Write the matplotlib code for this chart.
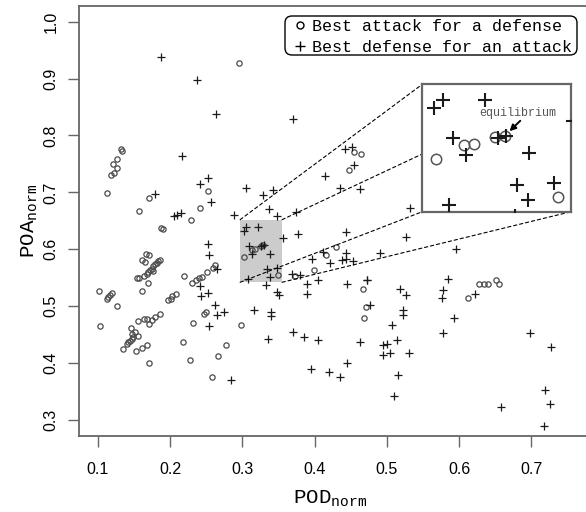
import matplotlib
matplotlib.use("Agg")
import matplotlib.pyplot as plt
from matplotlib.patches import Rectangle, ConnectionPatch, FancyBboxPatch
from matplotlib.lines import Line2D
from matplotlib.transforms import IdentityTransform

# ---- data: best attack for a defense (circles) ----
attack_x = [0.2959, 0.1322, 0.1332, 0.1271, 0.1216, 0.1271, 0.1230, 0.1184, 0.1124, 0.2530,
            0.2415, 0.1710, 0.1567, 0.2290, 0.1876, 0.1899, 0.1664, 0.1710, 0.1609, 0.1654,
            0.1862, 0.1838, 0.1816, 0.1793, 0.1769, 0.1747, 0.1723, 0.1700, 0.1678, 0.1645,
            0.1769, 0.1539, 0.1575, 0.1700, 0.1609, 0.1018, 0.1194, 0.1170, 0.1147, 0.1133,
            0.1271, 0.1976, 0.2010, 0.2032, 0.2079, 0.2198, 0.2311, 0.2355, 0.2401, 0.2447,
            0.2508, 0.2591, 0.2622, 0.2477, 0.2498, 0.2314, 0.2986, 0.1866, 0.1793, 0.1755,
            0.1678, 0.1636, 0.1553, 0.1710, 0.1032, 0.1456, 0.1470, 0.1516, 0.1553, 0.1492,
            0.1470, 0.1447, 0.1423, 0.1401, 0.1354, 0.1527, 0.1609, 0.1678, 0.1710, 0.2180,
            0.2277, 0.2775, 0.2668, 0.2581, 0.4296, 0.4158, 0.3996, 0.3729, 0.4674, 0.6278,
            0.6343, 0.6403, 0.6505, 0.6555, 0.6118, 0.4711, 0.4683, 0.4549, 0.4638, 0.4480,
            0.3133, 0.3173, 0.3022, 0.3254, 0.3293, 0.3498]
attack_y = [0.9268, 0.7759, 0.7729, 0.7595, 0.7507, 0.7437, 0.7342, 0.7301, 0.6996, 0.7028,
            0.6732, 0.6896, 0.6673, 0.6514, 0.6373, 0.6350, 0.5910, 0.5893, 0.5805, 0.5775,
            0.5817, 0.5792, 0.5757, 0.5734, 0.5699, 0.5658, 0.5628, 0.5599, 0.5570, 0.5535,
            0.5611, 0.5497, 0.5497, 0.5405, 0.5259, 0.5268, 0.5224, 0.5197, 0.5166, 0.5127,
            0.4995, 0.5113, 0.5130, 0.5171, 0.5206, 0.5523, 0.5408, 0.5458, 0.5488, 0.5505,
            0.5599, 0.5676, 0.5725, 0.4866, 0.4894, 0.4709, 0.4673, 0.4859, 0.4806, 0.4761,
            0.4778, 0.4778, 0.4736, 0.4678, 0.4643, 0.4625, 0.4514, 0.4542, 0.4475, 0.4458,
            0.4426, 0.4396, 0.4366, 0.4338, 0.4250, 0.4220, 0.4273, 0.4312, 0.3996, 0.4366,
            0.4056, 0.4317, 0.4120, 0.3762, 0.6039, 0.5893, 0.5641, 0.5523, 0.5303, 0.5382,
            0.5382, 0.5382, 0.5465, 0.5382, 0.5148, 0.4982, 0.4789, 0.7711, 0.7671, 0.7401,
            0.5996, 0.6005, 0.5873, 0.6062, 0.6076, 0.5550]

# ---- data: best defense for an attack (plus) ----
defense_x = [0.1871, 0.2369, 0.2636, 0.3705, 0.2162, 0.2415, 0.2521, 0.3051, 0.3282, 0.3429,
             0.1793, 0.4420, 0.4521, 0.4549, 0.4144, 0.4351, 0.4628, 0.2567, 0.2059, 0.2093,
             0.2152, 0.3373, 0.3476, 0.2885, 0.3743, 0.3775, 0.3559, 0.4430, 0.5264, 0.5313,
             0.4905, 0.5956, 0.2530, 0.2544, 0.2646, 0.2415, 0.2433, 0.2530, 0.2629, 0.2750,
             0.2653, 0.2544, 0.2840, 0.3162, 0.3393, 0.3393, 0.3360, 0.3476, 0.3512, 0.4112,
             0.4434, 0.4375, 0.4434, 0.4527, 0.4213, 0.3960, 0.3683, 0.3798, 0.3891, 0.4051,
             0.4721, 0.4452, 0.3891, 0.5181, 0.5264, 0.4729, 0.5849, 0.5772, 0.5758, 0.6219,
             0.4766, 0.5219, 0.5219, 0.5066, 0.5928, 0.5780, 0.4628, 0.5136, 0.4950, 0.4997,
             0.4950, 0.5043, 0.5310, 0.5158, 0.5102, 0.6979, 0.7270, 0.6578, 0.7187, 0.7256,
             0.7173, 0.3330,
             0.3700, 0.3850, 0.4050, 0.3950, 0.4200, 0.4350, 0.4450,
             0.3017, 0.3050, 0.3213, 0.3091, 0.3140, 0.3264, 0.3296, 0.3387, 0.3338, 0.3485,
             0.3381, 0.3075]
defense_y = [0.9384, 0.8974, 0.8375, 0.8287, 0.7636, 0.7151, 0.7254, 0.7081, 0.6949, 0.7037,
             0.6979, 0.7771, 0.7799, 0.7477, 0.7289, 0.7077, 0.7055, 0.6831, 0.6579, 0.6597,
             0.6644, 0.6702, 0.6592, 0.6609, 0.6655, 0.6275, 0.6204, 0.6303, 0.6218, 0.6732,
             0.5933, 0.6011, 0.6099, 0.5901, 0.5658, 0.5347, 0.5174, 0.5224, 0.5012, 0.4889,
             0.4845, 0.4651, 0.3697, 0.4924, 0.4894, 0.4819, 0.4426, 0.5246, 0.5188, 0.5951,
             0.5933, 0.5805, 0.5822, 0.5787, 0.5757, 0.5835, 0.5570, 0.5553, 0.5382, 0.5465,
             0.5465, 0.5382, 0.5218, 0.5306, 0.5201, 0.5452, 0.5470, 0.5289, 0.5148, 0.5206,
             0.5018, 0.4924, 0.4836, 0.4673, 0.4796, 0.4532, 0.4366, 0.4408, 0.4326, 0.4338,
             0.4150, 0.4173, 0.4173, 0.3798, 0.3415, 0.4525, 0.4278, 0.3222, 0.3528, 0.3282,
             0.2900, 0.5380,
             0.4550, 0.4450, 0.4400, 0.3900, 0.3850, 0.3750, 0.4000,
             0.6318, 0.6385, 0.6385, 0.6054, 0.5910, 0.6054, 0.6076, 0.5924, 0.5651, 0.5665,
             0.5521, 0.5478]

xticks = [0.1, 0.2, 0.3, 0.4, 0.5, 0.6, 0.7]
yticks = [0.3, 0.4, 0.5, 0.6, 0.7, 0.8, 0.9, 1.0]
zoom_x = (0.297, 0.355)
zoom_y = (0.542, 0.652)
legend_labels = ["Best attack for a defense", "Best defense for an attack"]

# ---- styling ----
MONO = "Liberation Mono"
SANS = "Liberation Sans"
frame_col = "#666666"
circ_col = "#4a4a4a"
plus_col = "#1a1a1a"

W, H = 586, 512
fig = plt.figure(figsize=(W / 100, H / 100), dpi=100)

def px_axes(l, t, r, b):
    return [l / W, (H - b) / H, (r - l) / W, (b - t) / H]

ax = fig.add_axes(px_axes(79.3, 6, 588, 436))
ax.set_xlim(0.0746, 0.1 + (588 - 97.7) / 723)
ax.set_ylim(0.2718, 1.0276)

ax.add_patch(Rectangle((zoom_x[0], zoom_y[0]), zoom_x[1] - zoom_x[0], zoom_y[1] - zoom_y[0],
                       facecolor="#cccccc", edgecolor="none", zorder=1))
ax.plot(attack_x, attack_y, linestyle="none", marker="o", ms=3.8, mfc="none",
        mec=circ_col, mew=0.9, zorder=3)
ax.plot(defense_x, defense_y, linestyle="none", marker="+", ms=6.0,
        mec=plus_col, mew=0.9, zorder=3)

ax.set_xticks(xticks)
ax.set_xticklabels([f"{v:.1f}" for v in xticks], fontfamily=SANS, fontsize=11.5)
ax.set_yticks(yticks)
ax.set_yticklabels([f"{v:.1f}" for v in yticks], fontfamily=SANS, fontsize=11.5,
                   rotation=90, va="center")
ax.tick_params(axis="x", length=8, width=1.0, color=frame_col, pad=10.5)
ax.tick_params(axis="y", length=8, width=1.0, color=frame_col, pad=7)
for s in ["left", "bottom", "top"]:
    ax.spines[s].set_color(frame_col)
    ax.spines[s].set_linewidth(1.3)
ax.spines["right"].set_visible(False)

ax.set_xlabel(r"POD$_\mathregular{norm}$", fontfamily=MONO, fontsize=15)
ax.xaxis.set_label_coords((330 - 79.3) / (588 - 79.3), -(499 - 436) / 430)
ax.xaxis.label.set_va("center")
ax.set_ylabel(r"POA$_\mathregular{norm}$", fontfamily=MONO, fontsize=15)
ax.yaxis.set_label_coords(-(79.3 - 30) / (588 - 79.3), 0.5)
ax.yaxis.label.set_va("center")

# ---- legend (rounded frame drawn in pixel space) ----
fig.add_artist(FancyBboxPatch((285, H - 55), 292, 39, boxstyle="round,pad=0,rounding_size=7",
                              transform=IdentityTransform(), facecolor="white",
                              edgecolor="black", lw=1.0, zorder=6))
handles = [Line2D([], [], linestyle="none", marker="o", ms=5, mfc="none", mec="black", mew=1.0),
           Line2D([], [], linestyle="none", marker="+", ms=7, mec="black", mew=1.0)]
leg = fig.legend(handles, legend_labels, loc="upper left",
                 bbox_to_anchor=(285 / W, (H - 12) / H), bbox_transform=fig.transFigure,
                 prop={"family": MONO, "size": 12}, frameon=False,
                 handlelength=1.0, handletextpad=0.2, borderpad=0.4, labelspacing=0.38,
                 borderaxespad=0)
leg.set_zorder(7)

# ---- inset ----
axins = fig.add_axes(px_axes(422.3, 84.3, 571, 211.7))
axins.set_zorder(5)
axins.set_facecolor("white")
axins.set_xlim(*zoom_x)
axins.set_ylim(*zoom_y)
axins.plot(attack_x, attack_y, linestyle="none", marker="o", ms=7.5, mfc="none",
           mec="#555555", mew=1.1, zorder=3)
axins.plot(defense_x, defense_y, linestyle="none", marker="+", ms=10, mec=plus_col,
           mew=1.5, zorder=3)
axins.set_xticks([])
axins.set_yticks([])
for s in axins.spines.values():
    s.set_color(frame_col)
    s.set_linewidth(1.6)
axins.text(0.3341, 0.6275, "equilibrium", fontfamily=MONO, fontsize=8.5, color="#555555",
           ha="center", va="center")
axins.annotate("", xy=(0.3310, 0.6115), xytext=(0.3352, 0.6205),
               arrowprops=dict(arrowstyle="-|>", color="black", lw=1.4,
                               mutation_scale=9, shrinkA=0, shrinkB=0))

# ---- connector lines ----
corners = [((zoom_x[0], zoom_y[1]), (0, 1)), ((zoom_x[1], zoom_y[1]), (1, 1)),
           ((zoom_x[0], zoom_y[0]), (0, 0)), ((zoom_x[1], zoom_y[0]), (1, 0))]
for pa, pb in corners:
    cp = ConnectionPatch(xyA=pa, coordsA=ax.transData, xyB=pb, coordsB=axins.transAxes,
                         color="black", lw=0.8, linestyle=(0, (3, 2.5)), zorder=2)
    fig.add_artist(cp)

fig.savefig("out.png", dpi=100)
